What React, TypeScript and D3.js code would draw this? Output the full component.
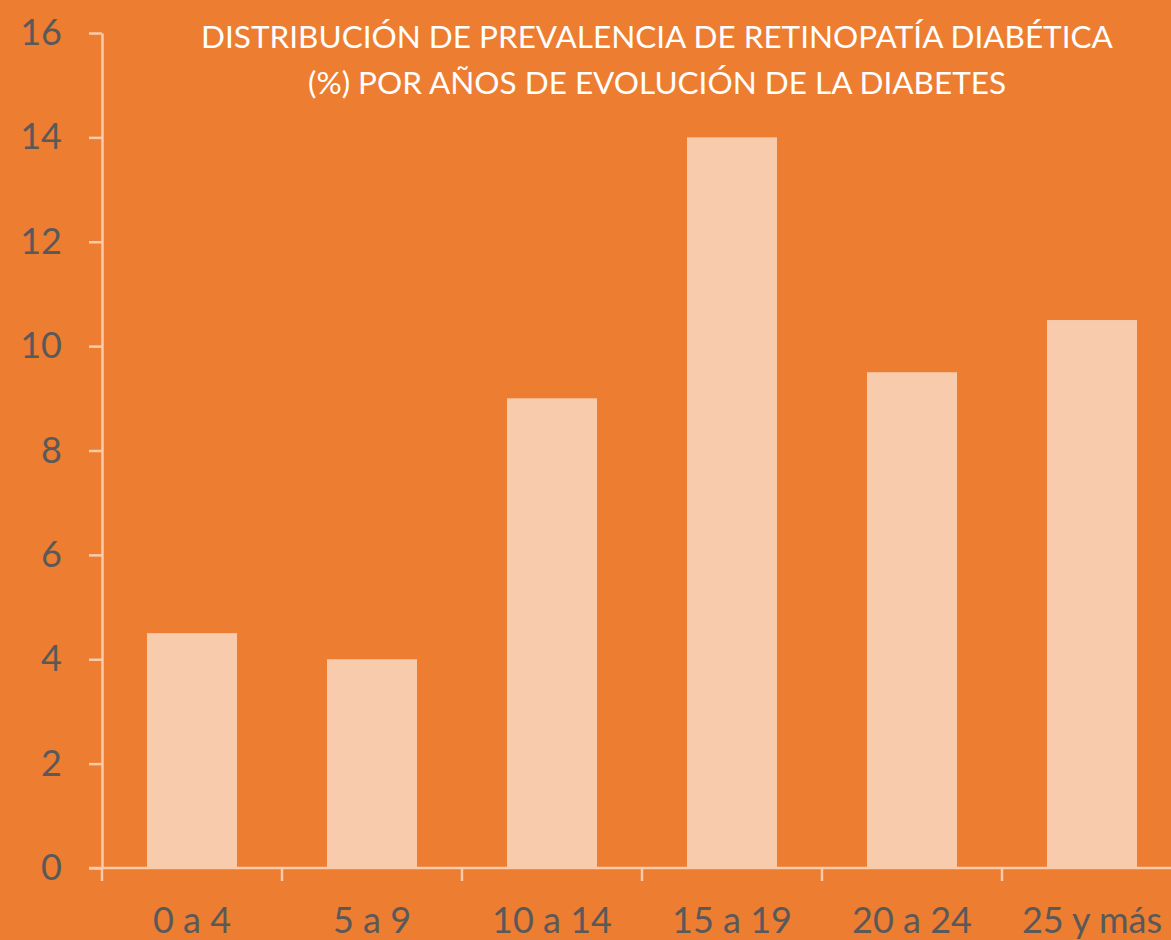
import React, { useEffect, useRef } from 'react';
import * as d3 from 'd3';

const categories = ['0 a 4', '5 a 9', '10 a 14', '15 a 19', '20 a 24', '25 y más'];
const prevalence = [4.5, 4, 9, 14, 9.5, 10.5];
const yTicks = [0, 2, 4, 6, 8, 10, 12, 14, 16];
const titleLines = [
  'DISTRIBUCIÓN DE PREVALENCIA DE RETINOPATÍA DIABÉTICA',
  '(%) POR AÑOS DE EVOLUCIÓN DE LA DIABETES',
];

const W = 1171;
const H = 940;
const colors = {
  bg: '#ED7D31',
  bar: '#F8CBAD',
  axis: '#F8CBAD',
  label: '#595959',
  title: '#FFFFFF',
};
const font = 'Lato, "Open Sans", sans-serif';

export default function App() {
  const ref = useRef<SVGSVGElement>(null);

  useEffect(() => {
    const svg = d3.select(ref.current);
    svg.selectAll('*').remove();

    svg.append('rect').attr('width', W).attr('height', H).attr('fill', colors.bg);

    const xScale = d3.scaleBand<string>()
      .domain(categories)
      .range([102, 1182])
      .paddingInner(0.5)
      .paddingOuter(0.25);

    const yScale = d3.scaleLinear().domain([0, 16]).range([868, 33]);

    // bars
    svg.append('g')
      .selectAll('rect')
      .data(prevalence)
      .enter()
      .append('rect')
      .attr('x', (_d, i) => xScale(categories[i]) as number)
      .attr('y', d => yScale(d))
      .attr('width', xScale.bandwidth())
      .attr('height', d => yScale(0) - yScale(d))
      .attr('fill', colors.bar);

    // y axis
    const yAxis = svg.append('g')
      .attr('transform', `translate(${xScale.range()[0]},0)`)
      .call(d3.axisLeft(yScale).tickValues(yTicks).tickSize(13).tickSizeOuter(0).tickPadding(27).tickFormat(d => `${d}`));
    yAxis.select('.domain').attr('stroke', colors.axis).attr('stroke-width', 2.5);
    yAxis.selectAll('.tick line').attr('stroke', colors.axis).attr('stroke-width', 2.5);
    yAxis.selectAll('.tick text')
      .attr('fill', colors.label)
      .attr('font-family', font)
      .attr('font-size', 36);

    // x axis: line plus ticks at band boundaries
    const x0 = xScale.range()[0];
    const step = xScale.step();
    const xAxis = svg.append('g').attr('transform', `translate(0,${yScale(0)})`);
    xAxis.append('line')
      .attr('x1', x0 - 13)
      .attr('x2', W)
      .attr('stroke', colors.axis)
      .attr('stroke-width', 2.5);
    xAxis.selectAll('line.tick')
      .data(d3.range(categories.length + 1))
      .enter()
      .append('line')
      .attr('class', 'tick')
      .attr('x1', i => x0 + i * step)
      .attr('x2', i => x0 + i * step)
      .attr('y1', 0)
      .attr('y2', 13)
      .attr('stroke', colors.axis)
      .attr('stroke-width', 2.5);
    xAxis.selectAll('text')
      .data(categories)
      .enter()
      .append('text')
      .attr('x', d => (xScale(d) as number) + xScale.bandwidth() / 2)
      .attr('y', 65)
      .attr('text-anchor', 'middle')
      .attr('fill', colors.label)
      .attr('font-family', font)
      .attr('font-size', 36)
      .text(d => d);

    // title
    svg.append('g')
      .selectAll('text')
      .data(titleLines)
      .enter()
      .append('text')
      .attr('x', 657)
      .attr('y', (_d, i) => 48 + i * 46)
      .attr('text-anchor', 'middle')
      .attr('fill', colors.title)
      .attr('font-family', font)
      .attr('font-size', 31.5)
      .text(d => d);
  }, []);

  return (
    <svg ref={ref} width={W} height={H} style={{ position: 'absolute', left: 0, top: 0 }} />
  );
}
